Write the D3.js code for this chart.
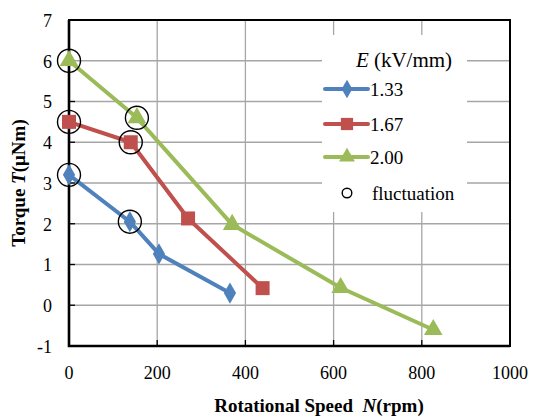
<!DOCTYPE html>
<html>
<head>
<meta charset="utf-8">
<script src="https://cdn.jsdelivr.net/npm/d3@7"></script>
<style>
  body { margin: 0; background: #fff; }
</style>
</head>
<body>
<div class="torque-chart"></div>
<script>
const seriesNames = ["1.33", "1.67", "2.00"];
const speed133 = [0, 138, 204, 365];
const torque133 = [3.2, 2.05, 1.26, 0.3];
const speed167 = [0, 140, 270, 439];
const torque167 = [4.5, 4.0, 2.13, 0.42];
const speed200 = [0, 154, 370, 616, 826];
const torque200 = [6.0, 4.6, 1.98, 0.43, -0.6];
// which points are marked as "fluctuation"
const fluct133 = [0, 1];
const fluct167 = [0, 1];
const fluct200 = [0, 1];
const xTicks = [0, 200, 400, 600, 800, 1000];
const yTicks = [-1, 0, 1, 2, 3, 4, 5, 6, 7];

const colors = ["#4F81BD", "#C0504D", "#9BBB59"];
const symbols = [d3.symbolDiamond, d3.symbolSquare, d3.symbolTriangle];
const serif = "'Liberation Serif', 'DejaVu Serif', 'Times New Roman', Times, serif";

const series = [
  { name: seriesNames[0], xs: speed133, ys: torque133, fl: fluct133 },
  { name: seriesNames[1], xs: speed167, ys: torque167, fl: fluct167 },
  { name: seriesNames[2], xs: speed200, ys: torque200, fl: fluct200 },
].map((s, i) => ({
  ...s,
  color: colors[i],
  symbol: symbols[i],
  points: s.xs.map((x, j) => ({ x: x, y: s.ys[j] })),
}));

const W = 535, H = 417;
const margin = { top: 20, right: 25, bottom: 71, left: 69 };
const width = W - margin.left - margin.right;
const height = H - margin.top - margin.bottom;

const svg = d3
  .select(".torque-chart")
  .append("svg")
  .attr("width", W)
  .attr("height", H)
  .attr("font-family", serif)
  .style("display", "block");

const g = svg
  .append("g")
  .attr("transform", `translate(${margin.left},${margin.top})`);

const x = d3.scaleLinear().domain([0, 1000]).range([0, width]);
const y = d3.scaleLinear().domain([-1, 7]).range([height, 0]);

// grid lines
g.append("g")
  .selectAll("line")
  .data(yTicks.slice(1, -1))
  .join("line")
  .attr("x1", 0)
  .attr("x2", width)
  .attr("y1", (d) => y(d))
  .attr("y2", (d) => y(d))
  .attr("stroke", "#a6a6a6")
  .attr("stroke-width", 1.3);

g.append("g")
  .selectAll("line")
  .data(xTicks.slice(1, -1))
  .join("line")
  .attr("x1", (d) => x(d))
  .attr("x2", (d) => x(d))
  .attr("y1", 0)
  .attr("y2", height)
  .attr("stroke", "#a6a6a6")
  .attr("stroke-width", 1.3);

// inner ticks
g.append("g")
  .selectAll("line")
  .data(yTicks)
  .join("line")
  .attr("x1", 0)
  .attr("x2", 6)
  .attr("y1", (d) => y(d))
  .attr("y2", (d) => y(d))
  .attr("stroke", "#000")
  .attr("stroke-width", 1.3);

g.append("g")
  .selectAll("line")
  .data(xTicks)
  .join("line")
  .attr("x1", (d) => x(d))
  .attr("x2", (d) => x(d))
  .attr("y1", height)
  .attr("y2", height - 6)
  .attr("stroke", "#000")
  .attr("stroke-width", 1.3);

// frame
g.append("rect")
  .attr("width", width)
  .attr("height", height)
  .attr("fill", "none")
  .attr("stroke", "#000")
  .attr("stroke-width", 2);

g.append("path")
  .attr("d", `M0,0V${height}H${width}`)
  .attr("fill", "none")
  .attr("stroke", "#000")
  .attr("stroke-width", 2.6);

// tick labels
g.append("g")
  .selectAll("text")
  .data(yTicks)
  .join("text")
  .attr("x", -17)
  .attr("y", (d) => y(d))
  .attr("dy", "0.38em")
  .attr("text-anchor", "end")
  .attr("font-family", serif)
  .attr("font-size", "18px")
  .text((d) => d);

g.append("g")
  .selectAll("text")
  .data(xTicks)
  .join("text")
  .attr("x", (d) => x(d))
  .attr("y", height + 33)
  .attr("text-anchor", "middle")
  .attr("font-family", serif)
  .attr("font-size", "18px")
  .text((d) => d);

// axis titles
const xTitle = svg
  .append("text")
  .attr("x", 319)
  .attr("y", 412)
  .attr("text-anchor", "middle")
  .attr("font-family", serif)
  .attr("font-size", "19px")
  .attr("font-weight", "bold");
xTitle.append("tspan").text("Rotational Speed\u00a0\u00a0");
xTitle.append("tspan").attr("font-style", "italic").text("N");
xTitle.append("tspan").text("(rpm)");

const yTitle = svg
  .append("text")
  .attr("transform", "translate(25,183) rotate(-90)")
  .attr("text-anchor", "middle")
  .attr("font-family", serif)
  .attr("font-size", "19px")
  .attr("font-weight", "bold");
yTitle.append("tspan").text("Torque\u00a0");
yTitle.append("tspan").attr("font-style", "italic").text("T");
yTitle.append("tspan").text("(μNm)");

// series
const line = d3
  .line()
  .x((d) => x(d.x))
  .y((d) => y(d.y));

series.forEach((s) => {
  g.append("path")
    .datum(s.points)
    .attr("fill", "none")
    .attr("stroke", s.color)
    .attr("stroke-width", 4)
    .attr("stroke-linejoin", "round")
    .attr("d", line);

  const size = s.symbol === d3.symbolTriangle ? 150 : s.symbol === d3.symbolSquare ? 196 : 130;
  g.append("g")
    .selectAll("path")
    .data(s.points)
    .join("path")
    .attr("transform", (d) => `translate(${x(d.x)},${y(d.y)})`)
    .attr("d", d3.symbol().type(s.symbol).size(size))
    .attr("fill", s.color);
});

// fluctuation circles
series.forEach((s) => {
  g.append("g")
    .selectAll("circle")
    .data(s.fl.map((i) => s.points[i]))
    .join("circle")
    .attr("cx", (d) => x(d.x))
    .attr("cy", (d) => y(d.y))
    .attr("r", 11.5)
    .attr("fill", "none")
    .attr("stroke", "#000")
    .attr("stroke-width", 1.4);
});

// legend
const legend = svg.append("g");
legend
  .append("rect")
  .attr("x", 322)
  .attr("y", 35)
  .attr("width", 145)
  .attr("height", 177)
  .attr("fill", "#fff");

const legTitle = legend
  .append("text")
  .attr("x", 404)
  .attr("y", 67)
  .attr("text-anchor", "middle")
  .attr("font-family", serif)
  .attr("font-size", "21px");
legTitle.append("tspan").attr("font-style", "italic").text("E");
legTitle.append("tspan").text("\u00a0(kV/mm)");

const rowY = [89, 124, 157];
series.forEach((s, i) => {
  legend
    .append("line")
    .attr("x1", 325)
    .attr("x2", 368)
    .attr("y1", rowY[i])
    .attr("y2", rowY[i])
    .attr("stroke", s.color)
    .attr("stroke-width", 4)
    .attr("stroke-linecap", "round");
  const size = s.symbol === d3.symbolTriangle ? 110 : s.symbol === d3.symbolSquare ? 150 : 100;
  legend
    .append("path")
    .attr("transform", `translate(347,${rowY[i]})`)
    .attr("d", d3.symbol().type(s.symbol).size(size))
    .attr("fill", s.color);
  legend
    .append("text")
    .attr("x", 370)
    .attr("y", rowY[i])
    .attr("dy", "0.36em")
    .attr("font-family", serif)
    .attr("font-size", "19px")
    .text(s.name);
});

legend
  .append("circle")
  .attr("cx", 347)
  .attr("cy", 193)
  .attr("r", 4.8)
  .attr("fill", "none")
  .attr("stroke", "#000")
  .attr("stroke-width", 1.4);
legend
  .append("text")
  .attr("x", 372)
  .attr("y", 193)
  .attr("dy", "0.36em")
  .attr("font-family", serif)
  .attr("font-size", "19px")
  .text("fluctuation");
</script>
</body>
</html>
